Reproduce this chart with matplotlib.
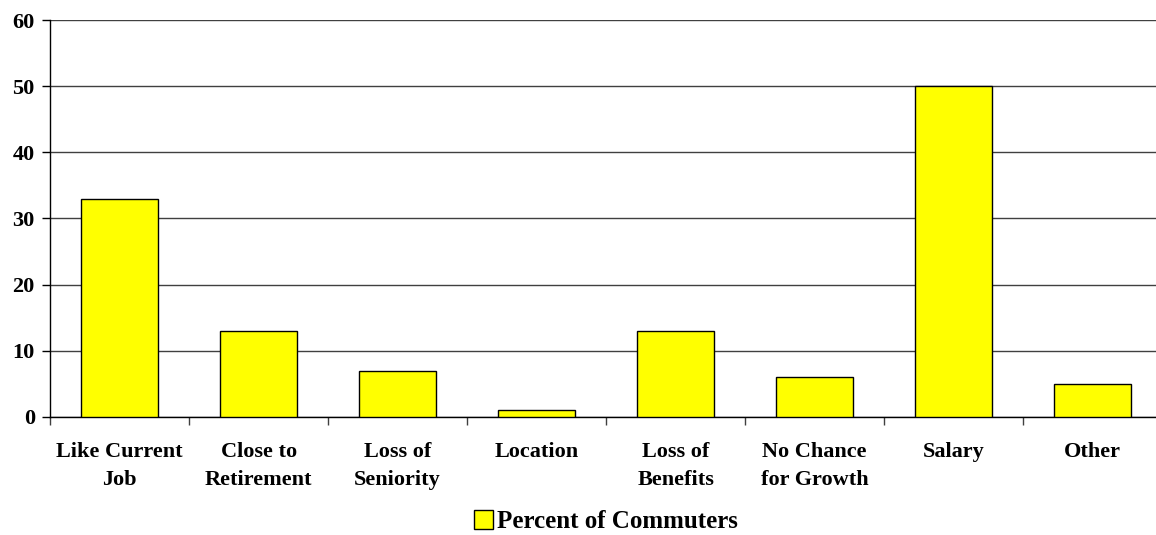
import matplotlib.pyplot as plt
import numpy as np
from matplotlib.patches import Patch

categories = [
    "Like Current\nJob",
    "Close to\nRetirement",
    "Loss of\nSeniority",
    "Location",
    "Loss of\nBenefits",
    "No Chance\nfor Growth",
    "Salary",
    "Other",
]
percent = [33, 13, 7, 1, 13, 6, 50, 5]
y_ticks = [0, 10, 20, 30, 40, 50, 60]
series_name = "Percent of Commuters"

plt.rcParams["font.family"] = ["Liberation Serif", "DejaVu Serif"]
plt.rcParams["font.weight"] = "bold"

fig = plt.figure(figsize=(11.56, 5.35), dpi=100)
ax = fig.add_axes([0.0433, 0.2206, 0.962, 0.742])

x = np.arange(len(categories))
ax.bar(
    x,
    percent,
    width=0.55,
    color="#ffff00",
    edgecolor="black",
    linewidth=1,
    zorder=3,
)

ax.set_xlim(-0.5, len(categories) - 0.5)
ax.set_ylim(0, 60)
ax.set_yticks(y_ticks)
ax.set_yticklabels([str(v) for v in y_ticks], fontsize=16, fontweight="bold")
ax.yaxis.grid(True, color="#404040", linewidth=1, zorder=0)

# category labels sit between the boundary ticks
ax.set_xticks(x)
ax.set_xticklabels(categories, fontsize=16, fontweight="bold", linespacing=1.55)
ax.tick_params(axis="x", length=0, pad=18)
ax.set_xticks(np.arange(len(categories) + 1) - 0.5, minor=True)
ax.tick_params(axis="x", which="minor", length=6, width=1, color="#404040")
ax.tick_params(axis="y", length=6, width=1, pad=5)

for side in ["top", "right"]:
    ax.spines[side].set_visible(False)
ax.spines["left"].set_linewidth(1)
ax.spines["bottom"].set_linewidth(1)

handle = Patch(facecolor="#ffff00", edgecolor="black", linewidth=1)
fig.legend(
    [handle],
    [series_name],
    loc="center",
    bbox_to_anchor=(0.524, 0.025),
    frameon=False,
    prop={"size": 18, "weight": "bold"},
    handlelength=0.75,
    handleheight=0.75,
    handletextpad=0.15,
)

fig.savefig("out.png", dpi=100)
